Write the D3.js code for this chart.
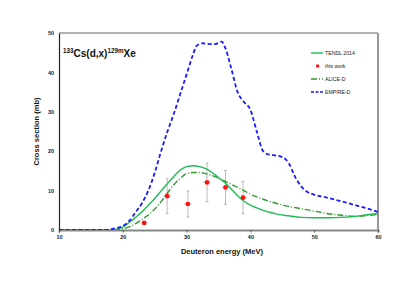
<!DOCTYPE html>
<html>
<head>
<meta charset="utf-8">
<script src="https://cdn.jsdelivr.net/npm/d3@7"></script>
<style>
  html, body { margin: 0; padding: 0; background: #fff; }
  #chart { width: 415px; height: 294px; }
  #chart text { font-family: Arial, "Liberation Sans", sans-serif; }
  .tick-label { font-size: 5.5px; font-weight: bold; fill: #222; }
  .axis-label { font-size: 7.5px; font-weight: bold; fill: #111; }
  .legend-text { font-size: 5.2px; fill: #222; }
  .title { font-size: 10px; font-weight: bold; fill: #111; }
</style>
</head>
<body>
<div id="chart"></div>
<script>
/* ── data ─────────────────────────────────────────────── */
const xTicks = [10, 20, 30, 40, 50, 60];
const yTicks = [0, 10, 20, 30, 40, 50];

const tendlE  = [10, 17, 18, 19, 20, 21, 22, 23, 24, 25, 26, 27, 28, 29, 30, 31, 32, 33, 34, 35, 36, 37, 38, 39, 40, 41, 42, 43, 44, 46, 48, 50, 52, 54, 56, 58, 60];
const tendlCS = [0, 0, 0.02, 0.2, 0.7, 1.9, 3.2, 4.6, 6.3, 8.0, 9.9, 11.8, 13.6, 15.2, 16.1, 16.3, 16.1, 15.6, 14.6, 13.3, 12.0, 10.4, 8.7, 7.3, 6.3, 5.6, 5.0, 4.5, 4.1, 3.6, 3.2, 3.1, 3.1, 3.2, 3.4, 3.8, 4.2];

const aliceE  = [10, 18, 19, 20, 21, 22, 23, 24, 25, 26, 27, 28, 29, 30, 31, 32, 33, 34, 35, 36, 37, 38, 39, 40, 42, 44, 46, 48, 50, 52, 54, 56, 58, 60];
const aliceCS = [0, 0, 0.05, 0.3, 0.8, 1.6, 2.7, 3.8, 5.3, 7.2, 9.4, 11.5, 13.1, 14.3, 14.6, 14.6, 14.3, 13.8, 13.2, 12.4, 11.6, 10.8, 10.0, 9.1, 7.8, 6.8, 6.0, 5.4, 4.8, 4.2, 3.8, 3.5, 3.6, 4.0];

const empireE  = [10, 17, 18, 19, 20, 21, 22, 23, 24, 25, 26, 27, 28, 29, 30, 31, 31.6, 32.5, 33.5, 34.5, 35.5, 36, 37, 38, 39, 40, 41, 42, 43, 44, 45, 46, 47, 48, 49, 50, 52, 54, 56, 58, 60];
const empireCS = [0, 0, 0.1, 0.5, 1.0, 2.3, 4.5, 6.8, 10.0, 14.5, 20.0, 25.0, 29.5, 34.5, 39.5, 44.5, 46.8, 47.4, 47.2, 47.2, 47.8, 46.5, 41.0, 35.0, 32.5, 30.5, 25.0, 20.0, 19.1, 18.9, 18.5, 17.0, 13.5, 11.0, 9.6, 9.0, 8.2, 7.4, 6.5, 5.6, 4.6];

const expE   = [23.35, 26.95, 30.2, 33.2, 36.1, 38.85];
const expCS  = [1.8, 8.6, 6.6, 12.1, 10.8, 8.2];
const expErr = [0.0, 4.4, 3.3, 4.9, 4.3, 4.1];
const expDE  = [0.6, 0.6, 0.6, 0.6, 0.6, 0.6];

const legendNames = ["TENDL 2014", "this work", "ALICE-D", "EMPIRE-D"];

/* ── layout ───────────────────────────────────────────── */
const W = 415, H = 294;
const plot = { left: 59, right: 378, top: 33, bottom: 230 };

const svg = d3.select("#chart").append("svg")
  .attr("width", W).attr("height", H);

const x = d3.scaleLinear().domain([10, 60]).range([plot.left, plot.right]);
const y = d3.scaleLinear().domain([0, 50]).range([plot.bottom, plot.top]);

// frame: top + right gray, left dark
svg.append("line").attr("x1", plot.left).attr("x2", plot.right)
  .attr("y1", plot.top).attr("y2", plot.top)
  .attr("stroke", "#999").attr("stroke-width", 1.5);
svg.append("line").attr("x1", plot.right).attr("x2", plot.right)
  .attr("y1", plot.top).attr("y2", plot.bottom)
  .attr("stroke", "#999").attr("stroke-width", 2);

// axes
const gx = svg.append("g").attr("transform", `translate(0,${plot.bottom})`)
  .call(d3.axisBottom(x).tickValues(xTicks).tickSize(2.5).tickPadding(3));
gx.select(".domain").attr("stroke", "#888").attr("stroke-width", 2);
gx.selectAll(".tick line").attr("stroke", "#555");
gx.selectAll(".tick text").attr("class", "tick-label").attr("font-size", null).attr("font-family", null);

const gy = svg.append("g").attr("transform", `translate(${plot.left},0)`)
  .call(d3.axisLeft(y).tickValues(yTicks).tickSize(0).tickPadding(5));
gy.select(".domain").attr("stroke", "#222").attr("stroke-width", 1.2);
gy.selectAll(".tick text").attr("class", "tick-label").attr("font-size", null).attr("font-family", null);

// axis labels
svg.append("text").attr("class", "axis-label")
  .attr("x", 222).attr("y", 254)
  .attr("text-anchor", "middle").text("Deuteron energy (MeV)");

svg.append("text").attr("class", "axis-label")
  .attr("transform", `translate(38.5,${(plot.top + plot.bottom) / 2}) rotate(-90)`)
  .attr("text-anchor", "middle").text("Cross section (mb)");

// title
const title = svg.append("text").attr("class", "title").attr("x", 63).attr("y", 56.5);
title.append("tspan").attr("font-size", "6.3px").attr("dy", -4).text("133");
title.append("tspan").attr("dy", 4).text("Cs(d,x)");
title.append("tspan").attr("font-size", "6.3px").attr("dy", -4).text("129m");
title.append("tspan").attr("dy", 4).text("Xe");

/* ── curves ───────────────────────────────────────────── */
const line = d3.line()
  .x(d => x(d[0])).y(d => y(d[1]))
  .curve(d3.curveMonotoneX);

svg.append("clipPath").attr("id", "clip").append("rect")
  .attr("x", plot.left).attr("y", plot.top - 2)
  .attr("width", plot.right - plot.left).attr("height", plot.bottom - plot.top + 2);

const curves = svg.append("g").attr("clip-path", "url(#clip)");

// error bars first
const eb = curves.append("g").attr("stroke", "#aaa").attr("stroke-width", 0.8);
expE.forEach((e, i) => {
  if (expErr[i] > 0) {
    eb.append("line").attr("x1", x(e)).attr("x2", x(e))
      .attr("y1", y(expCS[i] - expErr[i])).attr("y2", y(expCS[i] + expErr[i]));
    [expCS[i] - expErr[i], expCS[i] + expErr[i]].forEach(v => {
      eb.append("line").attr("x1", x(e) - 1.5).attr("x2", x(e) + 1.5)
        .attr("y1", y(v)).attr("y2", y(v));
    });
  }
  eb.append("line").attr("x1", x(e - expDE[i])).attr("x2", x(e + expDE[i]))
    .attr("y1", y(expCS[i])).attr("y2", y(expCS[i]));
});

curves.append("path").datum(d3.zip(aliceE, aliceCS))
  .attr("d", line).attr("fill", "none")
  .attr("stroke", "#2e9a2e").attr("stroke-width", 1.4)
  .attr("stroke-dasharray", "6,2,1,2");

curves.append("path").datum(d3.zip(tendlE, tendlCS))
  .attr("d", line).attr("fill", "none")
  .attr("stroke", "#22bb55").attr("stroke-width", 1.4);

curves.append("path").datum(d3.zip(empireE, empireCS))
  .attr("d", line).attr("fill", "none")
  .attr("stroke", "#1a1aff").attr("stroke-width", 1.8)
  .attr("stroke-dasharray", "4,2.5");

curves.selectAll(".pt").data(d3.zip(expE, expCS)).enter()
  .append("rect").attr("class", "pt")
  .attr("x", d => x(d[0]) - 2.1).attr("y", d => y(d[1]) - 2.1)
  .attr("width", 4.2).attr("height", 4.2).attr("rx", 1)
  .attr("fill", "#ff1111");

/* ── legend ───────────────────────────────────────────── */
const legendY = [53, 66, 79, 92];
const lg = svg.append("g");
legendNames.forEach((name, i) => {
  const ly = legendY[i];
  if (i === 0) {
    lg.append("line").attr("x1", 311).attr("x2", 323).attr("y1", ly).attr("y2", ly)
      .attr("stroke", "#22bb55").attr("stroke-width", 1.4);
  } else if (i === 1) {
    lg.append("rect").attr("x", 316).attr("y", ly - 1.6).attr("width", 3.2).attr("height", 3.2)
      .attr("rx", 0.8).attr("fill", "#ff1111");
  } else if (i === 2) {
    lg.append("line").attr("x1", 311).attr("x2", 323).attr("y1", ly).attr("y2", ly)
      .attr("stroke", "#2e9a2e").attr("stroke-width", 1.4).attr("stroke-dasharray", "6,2,1,2");
  } else {
    lg.append("line").attr("x1", 311).attr("x2", 324).attr("y1", ly).attr("y2", ly)
      .attr("stroke", "#1a1aff").attr("stroke-width", 1.6).attr("stroke-dasharray", "3,1.5");
  }
  lg.append("text").attr("class", "legend-text")
    .attr("x", 325).attr("y", ly + 1.8).text(name);
});
</script>
</body>
</html>
